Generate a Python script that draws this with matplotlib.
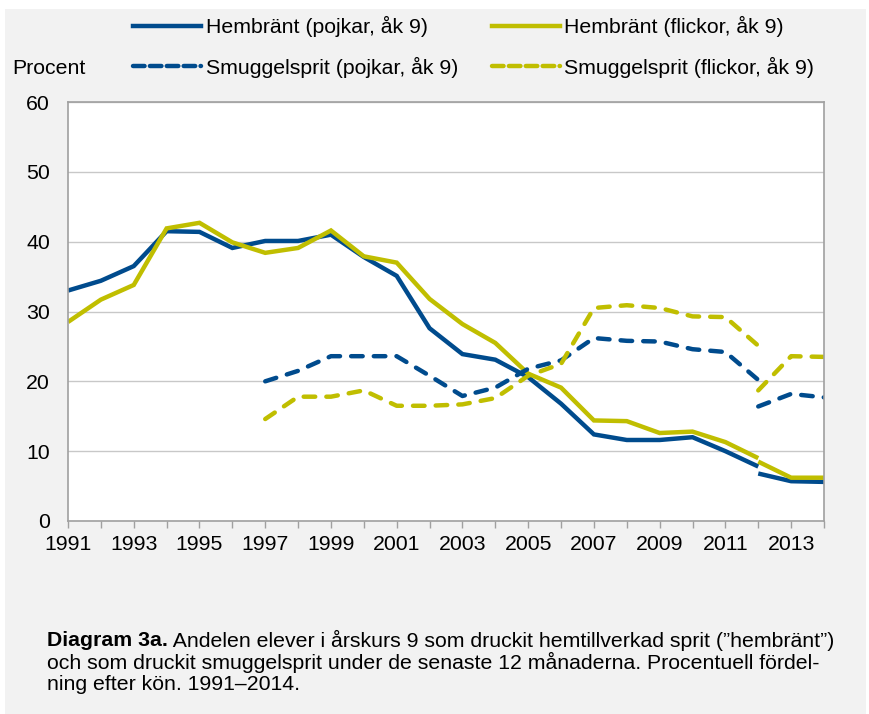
import matplotlib
matplotlib.use("Agg")
import matplotlib.pyplot as plt
from matplotlib.lines import Line2D
from matplotlib.patches import Rectangle
import numpy as np

plt.rcParams['font.family'] = ['Liberation Sans', 'DejaVu Sans']

# ---- data ----
years_a = list(range(1991, 2013))          # series up to 2012 (old method)
years_b = [2012, 2013, 2014]                # new method
years_sa = list(range(1997, 2013))

hem_pojkar_a = [33.0, 34.4, 36.5, 41.5, 41.4, 39.1, 40.1, 40.1, 41.0, 37.8, 35.1,
                27.6, 23.9, 23.1, 20.6, 16.8, 12.4, 11.6, 11.6, 12.0, 10.0, 7.8]
hem_pojkar_b = [6.8, 5.7, 5.6]
hem_flickor_a = [28.5, 31.7, 33.8, 41.9, 42.7, 39.9, 38.4, 39.1, 41.6, 37.9, 37.0,
                 31.8, 28.2, 25.5, 21.1, 19.1, 14.4, 14.3, 12.6, 12.8, 11.3, 9.0]
hem_flickor_b = [8.5, 6.2, 6.2]
smu_pojkar_a = [20.0, 21.5, 23.6, 23.6, 23.6, 20.8, 17.9, 19.1, 21.8, 23.0,
                26.2, 25.8, 25.7, 24.6, 24.2, 20.2]
smu_pojkar_b = [16.4, 18.2, 17.7]
smu_flickor_a = [14.6, 17.8, 17.8, 18.7, 16.5, 16.5, 16.7, 17.6, 20.8, 22.5,
                 30.5, 30.9, 30.5, 29.3, 29.2, 25.1]
smu_flickor_b = [18.7, 23.6, 23.5]

labels = ["Hembränt (pojkar, åk 9)", "Smuggelsprit (pojkar, åk 9)",
          "Hembränt (flickor, åk 9)", "Smuggelsprit (flickor, åk 9)"]
yticks = [0, 10, 20, 30, 40, 50, 60]
xtick_labels = list(range(1991, 2014, 2))

BLUE = "#004B8D"
YELLOW = "#C0BE00"
BG = "#F2F2F2"
FS = 15.3

fig = plt.figure(figsize=(8.69, 7.14), dpi=100, facecolor="white")
fig.patches.append(Rectangle((5/869, 0), 1 - 8/869, 1 - 9/714, transform=fig.transFigure,
                             facecolor=BG, edgecolor="none", zorder=-10))

ax = fig.add_axes([68/869, 1 - 521/714, (824-68)/869, (521-102)/714])
ax.set_facecolor("white")

lw = 3.2
dash = (2.6, 2.5)
ax.plot(years_a, hem_pojkar_a, color=BLUE, lw=lw, solid_capstyle='butt', solid_joinstyle='miter')
ax.plot(years_b, hem_pojkar_b, color=BLUE, lw=lw, solid_capstyle='butt')
ax.plot(years_a, hem_flickor_a, color=YELLOW, lw=lw, solid_capstyle='butt', solid_joinstyle='miter')
ax.plot(years_b, hem_flickor_b, color=YELLOW, lw=lw, solid_capstyle='butt')
ax.plot(years_sa, smu_pojkar_a, color=BLUE, lw=lw, dashes=dash, dash_capstyle='round')
ax.plot(years_b, smu_pojkar_b, color=BLUE, lw=lw, dashes=dash, dash_capstyle='round')
ax.plot(years_sa, smu_flickor_a, color=YELLOW, lw=lw, dashes=dash, dash_capstyle='round')
ax.plot(years_b, smu_flickor_b, color=YELLOW, lw=lw, dashes=dash, dash_capstyle='round')

ax.set_xlim(1991, 2014)
ax.set_ylim(0, 60)
ax.set_yticks(yticks)
ax.set_yticklabels([str(v) for v in yticks], fontsize=FS)
ax.set_xticks(list(range(1991, 2015)))
ax.set_xticklabels([str(y) if y in xtick_labels else "" for y in range(1991, 2015)], fontsize=FS)
ax.tick_params(axis='y', length=0, pad=13)
ax.tick_params(axis='x', length=5, width=1, color="#A0A0A0", pad=5)
ax.grid(axis='y', color="#C8C8C8", lw=1)
ax.set_axisbelow(True)
for s in ax.spines.values():
    s.set_color("#A0A0A0")
    s.set_linewidth(1.2)

# legend
legend_dash = (2.6, 1.2)
handles = [Line2D([], [], color=BLUE, lw=lw),
           Line2D([], [], color=BLUE, lw=lw, dashes=legend_dash, dash_capstyle='round'),
           Line2D([], [], color=YELLOW, lw=lw),
           Line2D([], [], color=YELLOW, lw=lw, dashes=legend_dash, dash_capstyle='round')]
fig.legend(handles, labels, ncol=2, loc='upper left', bbox_to_anchor=(129/869, 1 - 12/714),
           frameon=False, fontsize=FS, handlelength=3.2, handletextpad=0.2,
           columnspacing=1.6, labelspacing=0.92, borderaxespad=0, borderpad=0.2)

fig.text(12/869, 1 - 68/714, "Procent", fontsize=FS, va='center', ha='left')

# caption
t1 = fig.text(47/869, 1 - 640/714, "Diagram 3a.", fontsize=FS, fontweight='bold', va='center', ha='left')
fig.canvas.draw()
ax.annotate(" Andelen elever i årskurs 9 som druckit hemtillverkad sprit (”hembränt”)",
            xy=(1, 0.5), xycoords=t1, va='center', ha='left', fontsize=FS)
fig.text(47/869, 1 - 662/714,
         "och som druckit smuggelsprit under de senaste 12 månaderna. Procentuell fördel-",
         fontsize=FS, va='center', ha='left')
fig.text(47/869, 1 - 685/714, "ning efter kön. 1991–2014.", fontsize=FS, va='center', ha='left')

fig.savefig("out.png", dpi=100, facecolor=fig.get_facecolor())
